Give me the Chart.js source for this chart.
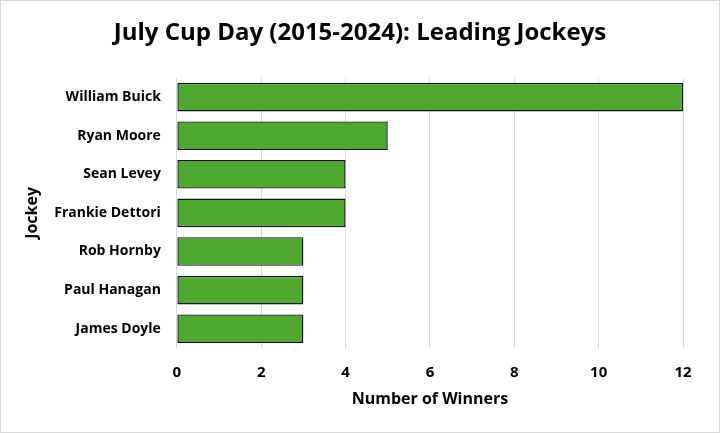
<!DOCTYPE html>
<html>
<head>
<meta charset="utf-8">
<script src="https://cdn.jsdelivr.net/npm/chart.js@4"></script>
<style>
  html, body { margin: 0; padding: 0; background: #fff; }
  #wrap { position: relative; width: 718px; height: 431px; border: 1px solid #d9d9d9; }
</style>
</head>
<body>
<div id="wrap"><canvas id="chart"></canvas></div>
<script>
// ── DATA ────────────────────────────────────────────
const jockeys = ['William Buick', 'Ryan Moore', 'Sean Levey', 'Frankie Dettori', 'Rob Hornby', 'Paul Hanagan', 'James Doyle'];
const winners = [12, 5, 4, 4, 3, 3, 3];
const xTicks = [0, 2, 4, 6, 8, 10, 12];

const FONT = "'Open Sans', sans-serif";
Chart.defaults.font.family = FONT;
Chart.defaults.color = '#000';

new Chart(document.getElementById('chart'), {
  type: 'bar',
  data: {
    labels: jockeys,
    datasets: [{
      data: winners,
      backgroundColor: '#4ea72e',
      borderColor: '#111',
      borderWidth: 1.4,
      borderSkipped: false,
      barPercentage: 0.74,
      categoryPercentage: 1
    }]
  },
  options: {
    indexAxis: 'y',
    responsive: true,
    maintainAspectRatio: false,
    animation: false,
    layout: { padding: { top: 18, right: 18, bottom: 21, left: 18 } },
    plugins: {
      legend: { display: false },
      tooltip: { enabled: false },
      title: {
        display: true,
        text: 'July Cup Day (2015-2024): Leading Jockeys',
        font: { size: 24, weight: 'bold' },
        color: '#000',
        padding: { top: 0, bottom: 30 }
      }
    },
    scales: {
      x: {
        min: 0, max: 12,
        afterBuildTicks: axis => { axis.ticks = xTicks.map(v => ({ value: v })); },
        grid: { color: '#d9d9d9', drawTicks: false },
        border: { display: false },
        ticks: { font: { size: 15, weight: 'bold' }, padding: 16 },
        title: {
          display: true,
          text: 'Number of Winners',
          font: { size: 16, weight: 'bold', lineHeight: 1 },
          padding: { top: -7, bottom: 4 }
        }
      },
      y: {
        grid: { display: false },
        border: { display: false },
        ticks: { font: { size: 14, weight: 'bold' }, padding: 8 },
        title: {
          display: true,
          text: 'Jockey',
          font: { size: 16, weight: 'bold' },
          padding: { top: 4, bottom: 4 }
        }
      },
      // empty spacer on the right so the plot ends short of the edge while the title stays centred
      spacer: {
        type: 'linear',
        position: 'right',
        grid: { display: false },
        border: { display: false },
        ticks: { display: false },
        afterFit: axis => { axis.width = 18; }
      }
    }
  }
});
</script>
</body>
</html>
